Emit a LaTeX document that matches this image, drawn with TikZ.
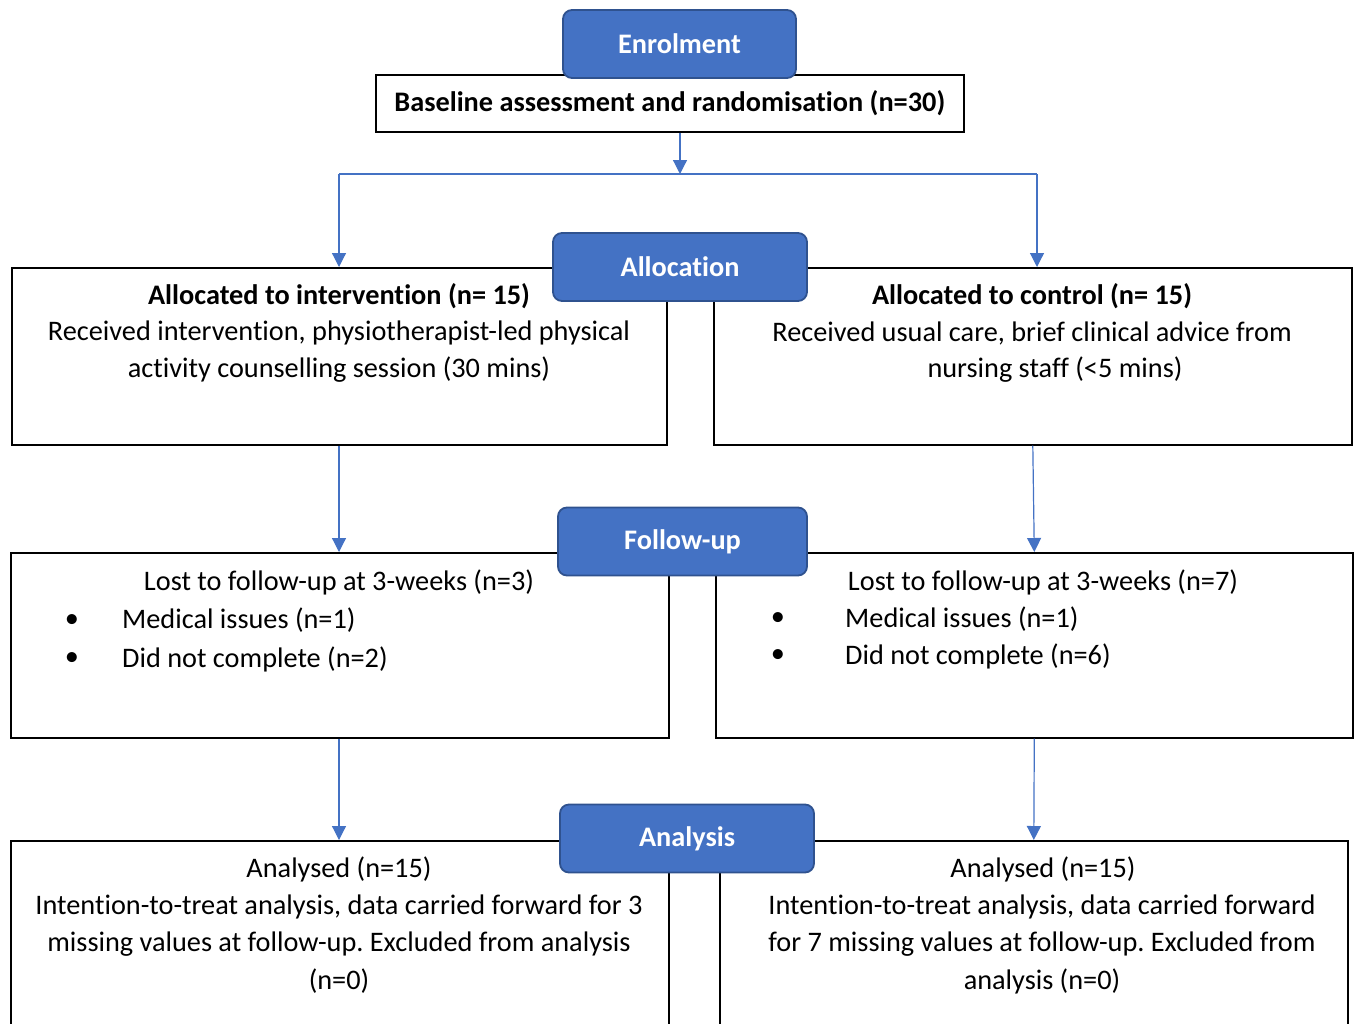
\documentclass[tikz,border=0pt]{standalone}
\usepackage{fontspec}
\setmainfont{Carlito}[Ligatures={NoCommon}]
\frenchspacing
\usetikzlibrary{arrows.meta,positioning}
\definecolor{StageBlue}{HTML}{4472C4}
\definecolor{StageRule}{HTML}{2F528F}

\begin{document}
\begin{tikzpicture}[x=1pt,y=-1pt,
  stage/.style={rounded corners=9pt, draw=StageRule, fill=StageBlue, line width=1.8pt,
                minimum height=68pt, text=white, font=\fontsize{28.3}{34}\selectfont\bfseries},
  card/.style={draw=black, fill=white, line width=1.6pt, anchor=north west, inner sep=0pt},
  txt/.style={inner sep=0pt, font=\fontsize{28.3}{34}\selectfont},
  head/.style={txt, font=\fontsize{28.3}{34}\selectfont\bfseries},
  arr/.style={-{Triangle[length=14pt,width=14pt]}, line width=1.2pt, draw=StageBlue}]
  \useasboundingbox (0,0) rectangle (1354,1023);

  % cards
  \node[card, minimum width=588pt, minimum height=57pt, font=\fontsize{28.3}{34}\selectfont\bfseries]
    (base) at (375,74) {Baseline assessment and randomisation (n=30)};
  \node[card, minimum width=655pt, minimum height=177pt] (intv) at (11,267) {};
  \node[card, minimum width=638pt, minimum height=177pt] (ctrl) at (713,267) {};
  \node[card, minimum width=658pt, minimum height=185pt] (lostI) at (10,552) {};
  \node[card, minimum width=637pt, minimum height=185pt] (lostC) at (715,552) {};
  \node[card, minimum width=658pt, minimum height=230pt] (anaI) at (10,840) {};
  \node[card, minimum width=628pt, minimum height=230pt] (anaC) at (719,840) {};

  % stage labels
  \node[stage, minimum width=233pt] (enrol) at (679.5,44) {Enrolment};
  \node[stage, minimum width=254pt] (alloc) at (680,267) {Allocation};
  \node[stage, minimum width=249pt] (follow) at (682.5,541.5) {Follow-up};
  \node[stage, minimum width=254pt] (analysis) at (687,838.5) {Analysis};

  % allocation texts
  \node[head] (intvHead) at (339,296) {Allocated to intervention (n= 15)};
  \node[txt] (intvA) at (339,333) {Received intervention, physiotherapist-led physical};
  \node[txt] (intvB) at (339,370) {activity counselling session (30 mins)};
  \node[head] (ctrlHead) at (1032,296) {Allocated to control (n= 15)};
  \node[txt] (ctrlA) at (1032,333) {Received usual care, brief clinical advice from};
  \node[txt] (ctrlB) at (1055,370) {nursing staff (<5 mins)};

  % follow-up texts
  \node[txt] (lostIHead) at (339,582) {Lost to follow-up at 3-weeks (n=3)};
  \node[txt] (bulIA) at (72,621) {•};
  \node[txt] (bulIB) at (72,659) {•};
  \node[txt, anchor=west] (lostIA) at (122,620) {Medical issues (n=1)};
  \node[txt, anchor=west] (lostIB) at (122,659) {Did not complete (n=2)};
  \node[txt] (lostCHead) at (1043,582) {Lost to follow-up at 3-weeks (n=7)};
  \node[txt] (bulCA) at (778,619) {•};
  \node[txt] (bulCB) at (778,656) {•};
  \node[txt, anchor=west] (lostCA) at (845,619) {Medical issues (n=1)};
  \node[txt, anchor=west] (lostCB) at (845,656) {Did not complete (n=6)};

  % analysis texts
  \node[txt] (anaIHead) at (339,869) {Analysed (n=15)};
  \node[txt] (anaIA) at (339,907) {Intention-to-treat analysis, data carried forward for 3};
  \node[txt] (anaIB) at (339,944) {missing values at follow-up. Excluded from analysis};
  \node[txt] (anaIC) at (339,981) {(n=0)};
  \node[txt] (anaCHead) at (1043,869) {Analysed (n=15)};
  \node[txt] (anaCA) at (1042,907) {Intention-to-treat analysis, data carried forward};
  \node[txt] (anaCB) at (1042,944) {for 7 missing values at follow-up. Excluded from};
  \node[txt] (anaCC) at (1042,981) {analysis (n=0)};

  % connectors
  \coordinate (split) at (680,174);
  \coordinate (splitL) at (339,174);
  \coordinate (splitR) at (1037,174);
  \draw[arr] (split |- base.south) -- (split);
  \draw[line width=1.2pt, draw=StageBlue] (splitL) -- (splitR);
  \draw[arr] (splitL) -- (splitL |- intv.north);
  \draw[arr] (splitR) -- (splitR |- ctrl.north);
  \draw[arr] (intv.south -| splitL) -- (splitL |- lostI.north);
  \draw[arr] (ctrl.south) -- (lostC.north);
  \draw[arr] (lostI.south -| splitL) -- (splitL |- anaI.north);
  \draw[arr] (lostC.south) -- (anaC.north);
\end{tikzpicture}
\end{document}
